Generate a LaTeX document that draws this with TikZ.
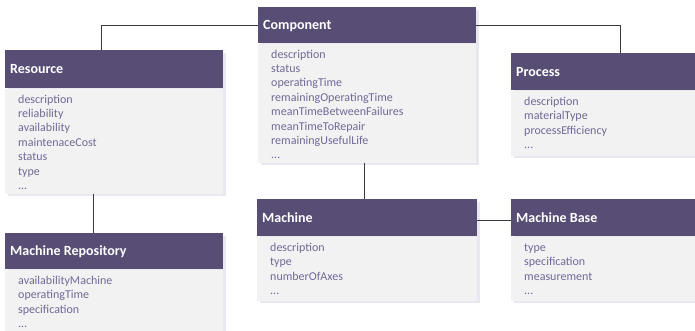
\documentclass[tikz,border=0pt]{standalone}
\usepackage{fontspec}
\setmainfont{Carlito}
\usetikzlibrary{shadows,calc}
\definecolor{headcol}{HTML}{584E75}
\definecolor{bodycol}{HTML}{F2F2F2}
\definecolor{shadcol}{HTML}{E9E7F0}
\definecolor{attrcol}{HTML}{6F6A96}
\definecolor{linecol}{HTML}{3A3A3A}
\newcommand{\attrfont}{\fontsize{12}{14.4}\selectfont}
\newcommand{\titlefont}{\fontsize{14}{16}\selectfont\bfseries}
\newcommand{\fl}{\rule{0pt}{9.5pt}}
\tikzset{
  boxshadow/.style={drop shadow={shadow xshift=2.5pt, shadow yshift=-2.5pt, fill=shadcol, opacity=1}},
  headbox/.style={rectangle, fill=headcol, anchor=north west, inner sep=0pt, boxshadow},
  bodybox/.style={rectangle, fill=bodycol, anchor=north west, inner sep=0pt, boxshadow},
  titletext/.style={anchor=west, inner sep=0pt, text=white, font=\titlefont, text height=9pt, text depth=0pt},
  attr/.style={anchor=north west, inner sep=0pt, align=left, font=\attrfont, text=attrcol},
  conn/.style={draw=linecol, line width=1pt},
}
\begin{document}
\begin{tikzpicture}[x=1pt,y=1pt]
\useasboundingbox (0,0) rectangle (695,331);
\fill[white] (0,0) rectangle (695,331);

% Resource
\node[headbox, minimum width=218pt, minimum height=38pt] (res) at (5,281) {};
\node[bodybox, minimum width=218pt, minimum height=105pt] (res-b) at (res.south west) {};
\node[titletext] (res-h) at ([xshift=5pt]res.west) {Resource};
\node[attr] (res-t) at ([xshift=13pt,yshift=-5pt]res-b.north west)
  {\fl description\\reliability\\availability\\maintenaceCost\\status\\type\\...};

% Component
\node[headbox, minimum width=218pt, minimum height=36pt] (comp) at (258,324) {};
\node[bodybox, minimum width=218pt, minimum height=119pt] (comp-b) at (comp.south west) {};
\node[titletext] (comp-h) at ([xshift=5pt]comp.west) {Component};
\node[attr] (comp-t) at ([xshift=13pt,yshift=-5pt]comp-b.north west)
  {\fl description\\status\\operatingTime\\remainingOperatingTime\\meanTimeBetweenFailures\\meanTimeToRepair\\remainingUsefulLife\\...};

% Process
\node[headbox, minimum width=218pt, minimum height=37pt] (proc) at (511,278) {};
\node[bodybox, minimum width=218pt, minimum height=65pt] (proc-b) at (proc.south west) {};
\node[titletext] (proc-h) at ([xshift=5pt]proc.west) {Process};
\node[attr] (proc-t) at ([xshift=13pt,yshift=-5.5pt]proc-b.north west)
  {\fl description\\materialType\\processEfficiency\\...};

% Machine Repository
\node[headbox, minimum width=218pt, minimum height=36pt] (mr) at (5,98) {};
\node[bodybox, minimum width=218pt, minimum height=80pt] (mr-b) at (mr.south west) {};
\node[titletext] (mr-h) at ([xshift=5pt]mr.west) {Machine Repository};
\node[attr] (mr-t) at ([xshift=13pt,yshift=-5.5pt]mr-b.north west)
  {\fl availabilityMachine\\operatingTime\\specification\\...};

% Machine
\node[headbox, minimum width=220pt, minimum height=37pt] (mach) at (257,132) {};
\node[bodybox, minimum width=220pt, minimum height=64pt] (mach-b) at (mach.south west) {};
\node[titletext] (mach-h) at ([xshift=5pt]mach.west) {Machine};
\node[attr] (mach-t) at ([xshift=13pt,yshift=-5.5pt]mach-b.north west)
  {\fl description\\type\\numberOfAxes\\...};

% Machine Base
\node[headbox, minimum width=218pt, minimum height=37pt] (mb) at (511,132) {};
\node[bodybox, minimum width=218pt, minimum height=64pt] (mb-b) at (mb.south west) {};
\node[titletext] (mb-h) at ([xshift=5pt]mb.west) {Machine Base};
\node[attr] (mb-t) at ([xshift=13pt,yshift=-5.5pt]mb-b.north west)
  {\fl type\\specification\\measurement\\...};

% connectors
\draw[conn] ([xshift=96pt]res.north west) |- (comp.west);
\draw[conn] (comp.east) -| (proc.north);
\draw[conn] ([xshift=88pt]res-b.south west) -- ([xshift=88pt]mr.north west);
\draw[conn] ([xshift=106pt]comp-b.south west) -- ([xshift=107pt]mach.north west);
\draw[conn] ([yshift=-3pt]mach.east) -- ([yshift=-3pt]mb.west);
\end{tikzpicture}
\end{document}
